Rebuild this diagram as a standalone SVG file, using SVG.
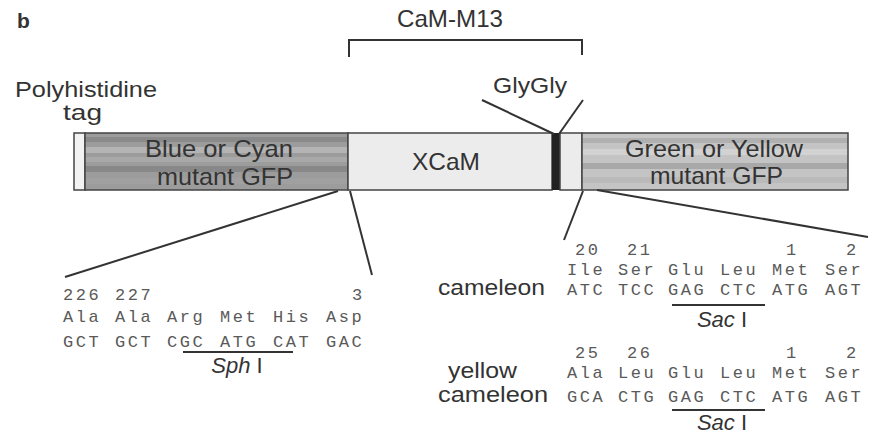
<svg xmlns="http://www.w3.org/2000/svg" width="878" height="440" viewBox="0 0 878 440">
<style>
.lbl{font-family:"Liberation Sans",Arial,sans-serif;fill:#333;font-size:22px}
.big{font-size:24px}
.seq{font-family:"Liberation Mono","Courier New",monospace;fill:#5a5a5a;font-size:17px;letter-spacing:2.5px}
.ln{stroke:#333;stroke-width:2;fill:none}
.it{font-style:italic}
</style>
<defs>
<pattern id="tex1" width="40" height="57" patternUnits="userSpaceOnUse" x="85" y="133">
<rect width="40" height="57" fill="#9c9c9c"/>
<rect y="4" width="40" height="5" fill="#8a8a8a"/>
<rect y="14" width="40" height="6" fill="#b4b4b4"/>
<rect y="24" width="40" height="5" fill="#a8a8a8"/>
<rect y="33" width="40" height="6" fill="#888"/>
<rect y="45" width="40" height="6" fill="#a0a0a0"/>
</pattern>
<pattern id="tex2" width="40" height="57" patternUnits="userSpaceOnUse" x="582" y="133">
<rect width="40" height="57" fill="#c4c4c4"/>
<rect y="5" width="40" height="5" fill="#b0b0b0"/>
<rect y="16" width="40" height="6" fill="#d2d2d2"/>
<rect y="30" width="40" height="6" fill="#a8a8a8"/>
<rect y="44" width="40" height="6" fill="#bababa"/>
</pattern>
</defs>
<rect width="878" height="440" fill="#fff"/>
<text x="17" y="28" style="font-family:'Liberation Sans',Arial,sans-serif;font-weight:bold;font-size:21px;fill:#333">b</text>

<g id="cam-m13">
<text class="lbl big" x="397" y="27" textLength="106" lengthAdjust="spacingAndGlyphs">CaM-M13</text>
<path class="ln" d="M349,57 V40 H582 V55"/>
</g>

<g id="polyhis">
<text class="lbl" x="15" y="97" font-size="20" textLength="142" lengthAdjust="spacingAndGlyphs">Polyhistidine</text>
<text class="lbl" x="63" y="120" font-size="20" textLength="39" lengthAdjust="spacingAndGlyphs">tag</text>
</g>

<g id="glygly">
<text class="lbl" x="493" y="93" textLength="74" lengthAdjust="spacingAndGlyphs">GlyGly</text>
</g>

<g id="construct">
<rect x="74" y="133" width="11" height="57" fill="#f2f2f2" stroke="#444" stroke-width="1.5"/>
<rect x="85" y="133" width="263" height="57" fill="url(#tex1)" stroke="#444" stroke-width="1.5"/>
<rect x="348" y="133" width="204" height="57" fill="#ececec" stroke="#444" stroke-width="1.5"/>
<rect x="552" y="133" width="8" height="57" fill="#222"/>
<rect x="560" y="133" width="22" height="57" fill="#ececec" stroke="#444" stroke-width="1.5"/>
<rect x="582" y="133" width="266" height="57" fill="url(#tex2)" stroke="#444" stroke-width="1.5"/>
<text class="lbl big" x="145" y="157" textLength="148" lengthAdjust="spacingAndGlyphs">Blue or Cyan</text>
<text class="lbl big" x="157" y="185" textLength="136" lengthAdjust="spacingAndGlyphs">mutant GFP</text>
<text class="lbl big" x="412" y="170" textLength="68" lengthAdjust="spacingAndGlyphs">XCaM</text>
<text class="lbl big" x="625" y="157" textLength="178" lengthAdjust="spacingAndGlyphs">Green or Yellow</text>
<text class="lbl big" x="650" y="184" textLength="133" lengthAdjust="spacingAndGlyphs">mutant GFP</text>
</g>

<g id="connectors">
<path class="ln" d="M482,100 L554,134"/>
<path class="ln" d="M583,100 L559,134"/>
<path class="ln" d="M338,191 L65,277"/>
<path class="ln" d="M350,191 L372,275" stroke-width="1.5"/>
<path class="ln" d="M583,191 L564,240" stroke-width="1.5"/>
<path class="ln" d="M597,190 L868,237"/>
</g>

<g id="left-seq">
<text class="seq" x="63" y="300">226</text>
<text class="seq" x="115" y="300">227</text>
<text class="seq" x="352" y="300">3</text>
<text class="seq" x="63" y="322">Ala</text>
<text class="seq" x="115" y="322">Ala</text>
<text class="seq" x="167" y="322">Arg</text>
<text class="seq" x="220" y="322">Met</text>
<text class="seq" x="273" y="322">His</text>
<text class="seq" x="326" y="322">Asp</text>
<text class="seq" x="63" y="347">GCT</text>
<text class="seq" x="115" y="347">GCT</text>
<text class="seq" x="167" y="347">CGC</text>
<text class="seq" x="220" y="347">ATG</text>
<text class="seq" x="273" y="347">CAT</text>
<text class="seq" x="326" y="347">GAC</text>
<path class="ln" d="M183,352 H293"/>
<text class="lbl" x="237" y="373" text-anchor="middle" font-size="19"><tspan class="it">Sph</tspan> I</text>
</g>

<g id="cameleon">
<text class="lbl" x="438" y="295" textLength="107" lengthAdjust="spacingAndGlyphs">cameleon</text>
<text class="seq" x="575" y="255">20</text>
<text class="seq" x="627" y="255">21</text>
<text class="seq" x="786" y="255">1</text>
<text class="seq" x="846" y="255">2</text>
<text class="seq" x="567" y="275">Ile</text>
<text class="seq" x="618" y="275">Ser</text>
<text class="seq" x="668" y="275">Glu</text>
<text class="seq" x="720" y="275">Leu</text>
<text class="seq" x="772" y="275">Met</text>
<text class="seq" x="825" y="275">Ser</text>
<text class="seq" x="567" y="295">ATC</text>
<text class="seq" x="618" y="295">TCC</text>
<text class="seq" x="668" y="295">GAG</text>
<text class="seq" x="720" y="295">CTC</text>
<text class="seq" x="772" y="295">ATG</text>
<text class="seq" x="825" y="295">AGT</text>
<path class="ln" d="M672,305 H765"/>
<text class="lbl" x="722" y="327" text-anchor="middle" font-size="19"><tspan class="it">Sac</tspan> I</text>
</g>

<g id="yellow-cameleon">
<text class="lbl" x="448" y="378" textLength="69" lengthAdjust="spacingAndGlyphs">yellow</text>
<text class="lbl" x="438" y="402" textLength="110" lengthAdjust="spacingAndGlyphs">cameleon</text>
<text class="seq" x="575" y="358">25</text>
<text class="seq" x="627" y="358">26</text>
<text class="seq" x="786" y="358">1</text>
<text class="seq" x="846" y="358">2</text>
<text class="seq" x="567" y="378">Ala</text>
<text class="seq" x="618" y="378">Leu</text>
<text class="seq" x="668" y="378">Glu</text>
<text class="seq" x="720" y="378">Leu</text>
<text class="seq" x="772" y="378">Met</text>
<text class="seq" x="825" y="378">Ser</text>
<text class="seq" x="567" y="402">GCA</text>
<text class="seq" x="618" y="402">CTG</text>
<text class="seq" x="668" y="402">GAG</text>
<text class="seq" x="720" y="402">CTC</text>
<text class="seq" x="772" y="402">ATG</text>
<text class="seq" x="825" y="402">AGT</text>
<path class="ln" d="M672,410 H765"/>
<text class="lbl" x="722" y="430" text-anchor="middle" font-size="19"><tspan class="it">Sac</tspan> I</text>
</g>
</svg>
